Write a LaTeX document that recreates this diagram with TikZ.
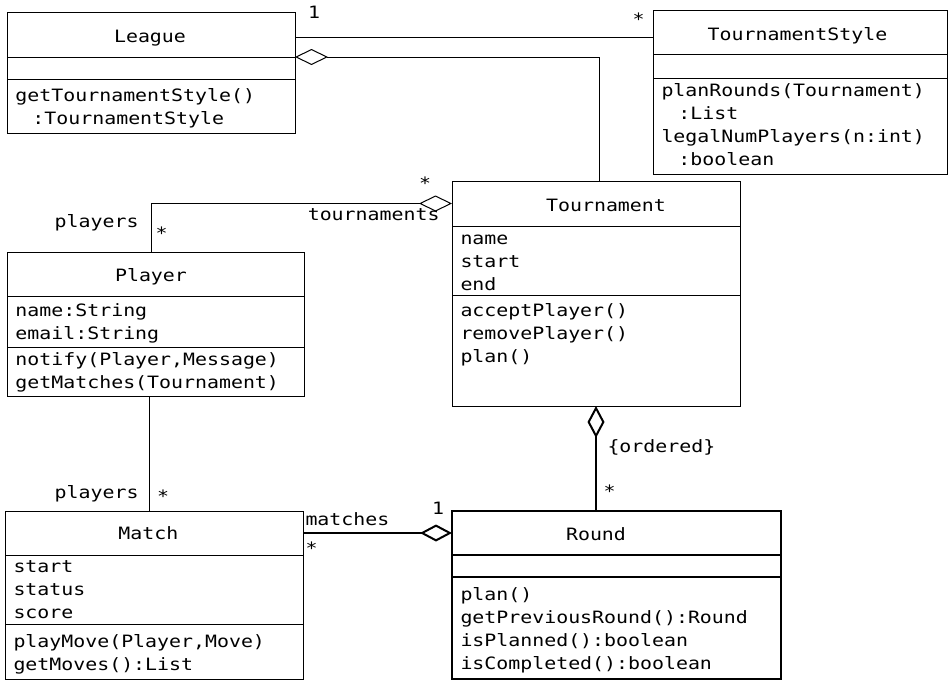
\documentclass[tikz,border=0pt]{standalone}
\usepackage{fontspec}
\usetikzlibrary{arrows.meta}
\newfontfamily\umlfont{DejaVu Sans Mono}[FakeStretch=1.17]
\newcommand{\umlsize}{\umlfont\fontsize{17pt}{23pt}\selectfont}
\newcommand{\cont}{\hphantom{x}\kern5pt}

\begin{document}
\begin{tikzpicture}[x=1pt, y=-1pt, line width=1pt,
    box/.style={draw, anchor=north west, inner sep=0pt, outer sep=0pt},
    mem/.style={anchor=base west, align=left, text width=300pt, inner sep=0pt, font=\umlsize},
    lbl/.style={inner sep=0pt, font=\umlsize},
    bold/.style={line width=2pt},
    agg/.style={{Diamond[open, length=33pt, width=16pt]}-},
    bigagg/.style={bold, {Diamond[open, length=32pt, width=17pt]}-}]
    \useasboundingbox (0,0) rectangle (949,680);

    % League
    \node[box, minimum width=288pt, minimum height=45pt] (league) at (7,12) {};
    \node[box, minimum width=288pt, minimum height=22pt] (leaguea) at (7,57) {};
    \node[box, minimum width=288pt, minimum height=54pt] (leagueo) at (7,79) {};
    \node[lbl, anchor=base] (leaguet) at (150,42) {League};
    \node[mem] (leaguem) at (15,101) {getTournamentStyle()\\\cont:TournamentStyle};

    % TournamentStyle
    \node[box, minimum width=294pt, minimum height=44pt] (tstyle) at (653,10) {};
    \node[box, minimum width=294pt, minimum height=24pt] (tstylea) at (653,54) {};
    \node[box, minimum width=294pt, minimum height=96pt] (tstyleo) at (653,78) {};
    \node[lbl, anchor=base] (tstylet) at (797.5,40) {TournamentStyle};
    \node[mem] (tstylem) at (661,96) {planRounds(Tournament)\\\cont:List\\legalNumPlayers(n:int)\\\cont:boolean};

    % Tournament
    \node[box, minimum width=288pt, minimum height=45pt] (tourn) at (452,181) {};
    \node[box, minimum width=288pt, minimum height=69pt] (tourna) at (452,226) {};
    \node[box, minimum width=288pt, minimum height=111pt] (tourno) at (452,295) {};
    \node[lbl, anchor=base] (tournt) at (606,211) {Tournament};
    \node[mem] (tournatt) at (460,244) {name\\start\\end};
    \node[mem] (tournm) at (460,316) {acceptPlayer()\\removePlayer()\\plan()};

    % Player
    \node[box, minimum width=297pt, minimum height=44pt] (player) at (7,252) {};
    \node[box, minimum width=297pt, minimum height=51pt] (playera) at (7,296) {};
    \node[box, minimum width=297pt, minimum height=49pt] (playero) at (7,347) {};
    \node[lbl, anchor=base] (playert) at (151,281.5) {Player};
    \node[mem] (playeratt) at (15,316) {name:String\\email:String};
    \node[mem] (playerm) at (15,365) {notify(Player,Message)\\getMatches(Tournament)};

    % Match
    \node[box, minimum width=298pt, minimum height=44pt] (match) at (5,511) {};
    \node[box, minimum width=298pt, minimum height=69pt] (matcha) at (5,555) {};
    \node[box, minimum width=298pt, minimum height=55pt] (matcho) at (5,624) {};
    \node[lbl, anchor=base] (matcht) at (148.3,539.5) {Match};
    \node[mem] (matchatt) at (13,572) {start\\status\\score};
    \node[mem] (matchm) at (13,647) {playMove(Player,Move)\\getMoves():List};

    % Round
    \node[box, bold, minimum width=329pt, minimum height=44pt] (round) at (452,511) {};
    \node[box, bold, minimum width=329pt, minimum height=22pt] (rounda) at (452,555) {};
    \node[box, bold, minimum width=329pt, minimum height=102pt] (roundo) at (452,577) {};
    \node[lbl, anchor=base] (roundt) at (596,540) {Round};
    \node[mem] (roundm) at (460,600) {plan()\\getPreviousRound():Round\\isPlanned():boolean\\isCompleted():boolean};

    % League -- TournamentStyle
    \draw ([yshift=-2.5pt]league.east) -- ([yshift=-2.5pt]league.east -| tstyle.west);
    \node[lbl, anchor=base] (lone) at (314,18) {1};
    \node[lbl, anchor=base] (tsmany) at (638.5,25.4) {*};

    % aggregations
    \draw[agg] (league.south east) -| ([xshift=3pt]tourn.north);
    \draw[agg] (tourn.west) -| ([xshift=-4.5pt]player.north);
    \node[lbl, anchor=base] (tmany) at (425,189.4) {*};
    \node[lbl, anchor=base east] (tlabel) at (440,220) {tournaments};
    \node[lbl, anchor=base east] (plabel) at (139,227) {players};
    \node[lbl, anchor=base] (pmany) at (161.7,239.4) {*};

    % Player -- Match
    \draw ([xshift=-6.5pt]playero.south) -- ([xshift=-6.5pt]playero.south |- match.north);
    \node[lbl, anchor=base east] (mplabel) at (139,498) {players};
    \node[lbl, anchor=base] (mpmany) at (163,502.7) {*};

    % Tournament -- Round
    \draw[bigagg] (tourno.south) -- (tourno.south |- round.north);
    \node[lbl, anchor=base west] (ordered) at (607,452) {\{ordered\}};
    \node[lbl, anchor=base] (rmany) at (609.7,497.7) {*};

    % Round -- Match
    \draw[bigagg] (round.west) -- (match.east);
    \node[lbl, anchor=base west] (mlabel) at (305,525) {matches};
    \node[lbl, anchor=base] (mmany) at (311.7,554.7) {*};
    \node[lbl, anchor=base] (rone) at (438,514) {1};
\end{tikzpicture}
\end{document}
